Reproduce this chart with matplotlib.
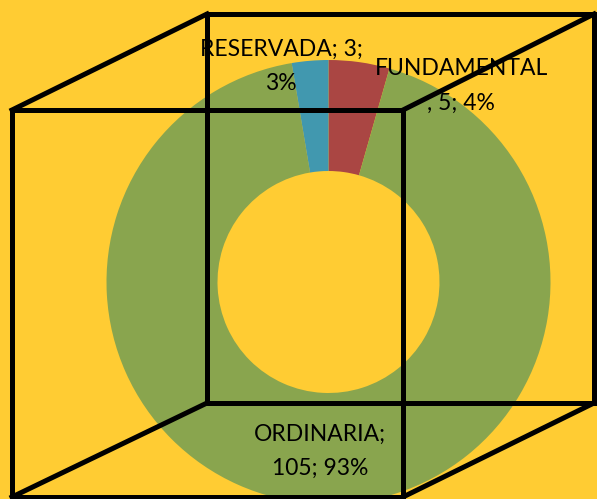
import matplotlib
matplotlib.use("Agg")
import matplotlib.pyplot as plt
from matplotlib.lines import Line2D

categories = ["FUNDAMENTAL", "ORDINARIA", "RESERVADA"]
values = [5, 105, 3]
percents = ["4%", "93%", "3%"]
colors = ["#AA4643", "#89A54E", "#4198AF"]
label_texts = ["FUNDAMENTAL\n, 5; 4%", "ORDINARIA;\n105; 93%", "RESERVADA; 3;\n3%"]
label_xy = [(0.597, 0.884), (-0.038, -0.762), (-0.214, 0.972)]

W, H = 597, 499
bg = "#FFCC33"
fig = plt.figure(figsize=(W / 100, H / 100), dpi=100)
fig.patch.set_facecolor(bg)

cx, cy, R = 328.5, 282, 222
ax = fig.add_axes([(cx - R) / W, (H - cy - R) / H, 2 * R / W, 2 * R / H])
ax.set_facecolor("none")
ax.pie(values, colors=colors, startangle=90, counterclock=False, radius=1,
       wedgeprops=dict(width=0.5, linewidth=0))
ax.set_xlim(-1, 1)
ax.set_ylim(-1, 1)
ax.axis("off")

for txt, (x, y) in zip(label_texts, label_xy):
    ax.text(x, y, txt, ha="center", va="center", fontsize=16.5,
            family=["Lato", "DejaVu Sans"], linespacing=1.8, color="black",
            clip_on=False)

def P(x, y):
    return (x / W, 1 - y / H)

back = [(207, 14), (594, 14), (594, 403), (207, 403)]
front = [(12, 110), (403, 110), (403, 497), (12, 497)]
segs = []
for i in range(4):
    segs.append((back[i], back[(i + 1) % 4]))
    segs.append((front[i], front[(i + 1) % 4]))
    segs.append((front[i], back[i]))
for a, b in segs:
    pa, pb = P(*a), P(*b)
    fig.add_artist(Line2D([pa[0], pb[0]], [pa[1], pb[1]], transform=fig.transFigure,
                          color="black", linewidth=3.6, solid_capstyle="projecting",
                          zorder=10))

fig.savefig("out.png", dpi=100, facecolor=bg)
